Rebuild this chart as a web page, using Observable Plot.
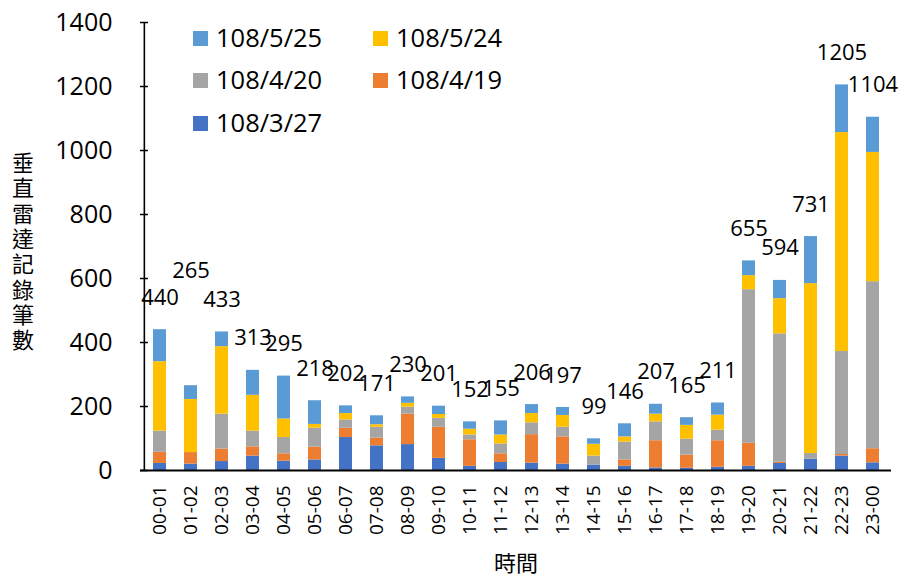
<!DOCTYPE html>
<html>
<head>
<meta charset="utf-8">
<script src="https://cdn.jsdelivr.net/npm/d3@7"></script>
<script src="https://cdn.jsdelivr.net/npm/@observablehq/plot@0.6"></script>
<style>
  html, body { margin: 0; padding: 0; background: #fff; }
  #wrap { position: relative; width: 901px; height: 578px; font-family: "Open Sans", "Noto Sans CJK TC", sans-serif; }
  .item { position: absolute; display: flex; align-items: center; height: 32px; font-size: 25.5px; line-height: 1; color: #000; white-space: nowrap; }
  .sw { width: 15px; height: 15px; margin-right: 8px; flex: none; }
</style>
</head>
<body>
<div id="wrap"></div>
<script>
// ---------- data ----------
const hours = ["00-01","01-02","02-03","03-04","04-05","05-06","06-07","07-08","08-09","09-10","10-11","11-12",
               "12-13","13-14","14-15","15-16","16-17","17-18","18-19","19-20","20-21","21-22","22-23","23-00"];
const seriesNames = ["108/3/27","108/4/19","108/4/20","108/5/24","108/5/25"]; // bottom -> top
const s0327 = [22,20,28,45,29,33,103,77,81,38,13,25,23,20,17,13,8,7,10,13,22,35,45,24];
const s0419 = [35,36,39,29,23,40,29,24,95,97,83,27,89,85,0,20,85,41,83,72,4,0,5,44];
const s0420 = [66,0,109,49,51,59,26,34,22,28,15,31,37,30,28,56,59,50,33,480,401,18,322,522];
const s0524 = [217,166,211,112,58,12,20,8,12,12,18,28,29,37,37,16,24,43,47,44,110,531,684,404];
const s0525 = [100,43,46,78,134,74,24,28,20,26,23,44,28,25,17,41,31,24,38,46,57,147,149,110];
const totals = [440,265,433,313,295,218,202,171,230,201,152,155,206,197,99,146,207,165,211,655,594,731,1205,1104];
const yTicks = [0,200,400,600,800,1000,1200,1400];
const colors = ["#4472C4","#ED7D31","#A5A5A5","#FFC000","#5B9BD5"];
const xTitle = "時間";
const yTitle = "垂直雷達記錄筆數";
const legendOrder = ["108/5/25","108/5/24","108/4/20","108/4/19","108/3/27"];

// ---------- build ----------
const seriesValues = [s0327, s0419, s0420, s0524, s0525];
const rows = [];
hours.forEach((h, i) => seriesNames.forEach((s, j) => rows.push({hour: h, series: s, value: seriesValues[j][i]})));
const labelRows = hours.map((h, i) => ({hour: h, total: totals[i]}));
const labelDy = d => d.hour === "01-02" ? -115 : -32;

const W = 901, H = 578, ML = 140, MR = 10, MT = 22, MB = 108;
const padIn = 0.59, padOut = 0.295;
const step = (W - ML - MR) / (hours.length - padIn + 2 * padOut);
const halfBandOffset = padOut * step + (1 - padIn) * step / 2; // from frame left edge to first band centre

const chart = Plot.plot({
  width: W, height: H,
  marginLeft: ML, marginRight: MR, marginTop: MT, marginBottom: MB,
  style: {fontFamily: '"Open Sans", "Noto Sans CJK TC", sans-serif', background: "#fff", color: "#000"},
  x: {domain: hours, paddingInner: padIn, paddingOuter: padOut, label: null},
  y: {domain: [0, 1400], label: null},
  color: {domain: seriesNames, range: colors},
  marks: [
    Plot.barY(rows, {x: "hour", y: "value", fill: "series", order: seriesNames}),
    Plot.ruleY([0], {stroke: "#000", strokeWidth: 1.8}),
    Plot.ruleX([hours[0]], {x: d => d, y1: 0, y2: 1400, dx: -halfBandOffset, stroke: "#000", strokeWidth: 1.6}),
    Plot.axisY({ticks: yTicks, tickFormat: d => String(d), tickSize: -8, tickPadding: 36, fontSize: 25, strokeWidth: 1.5, label: null}),
    Plot.axisX({tickSize: 0, tickRotate: -90, tickPadding: 15, fontSize: 19, label: null}),
    ...labelRows.map(d => Plot.text([d], {x: "hour", y: "total", text: r => String(r.total), dy: labelDy(d), fontSize: 22, fill: "#000"})),
    Plot.text([xTitle], {frameAnchor: "bottom", lineAnchor: "middle", dy: 93, fontSize: 22, fill: "#000"}),
    Plot.text([yTitle.split("").join("\n")], {frameAnchor: "left", textAnchor: "middle", lineAnchor: "middle", dx: -117.5, dy: 5, fontSize: 22, lineHeight: 1.15, fill: "#000"})
  ]
});
const wrap = document.getElementById("wrap");
wrap.appendChild(chart);

// legend (HTML overlay inside the plot area)
const legendPos = {"108/5/25": [193, 22], "108/5/24": [373, 22], "108/4/20": [193, 64], "108/4/19": [373, 64], "108/3/27": [193, 107]};
legendOrder.forEach(name => {
  const [lx, ly] = legendPos[name];
  const div = document.createElement("div");
  div.className = "item";
  div.style.left = lx + "px";
  div.style.top = ly + "px";
  const sw = document.createElement("span");
  sw.className = "sw";
  sw.style.background = colors[seriesNames.indexOf(name)];
  const t = document.createElement("span");
  t.textContent = name;
  div.appendChild(sw); div.appendChild(t);
  wrap.appendChild(div);
});
</script>
</body>
</html>
